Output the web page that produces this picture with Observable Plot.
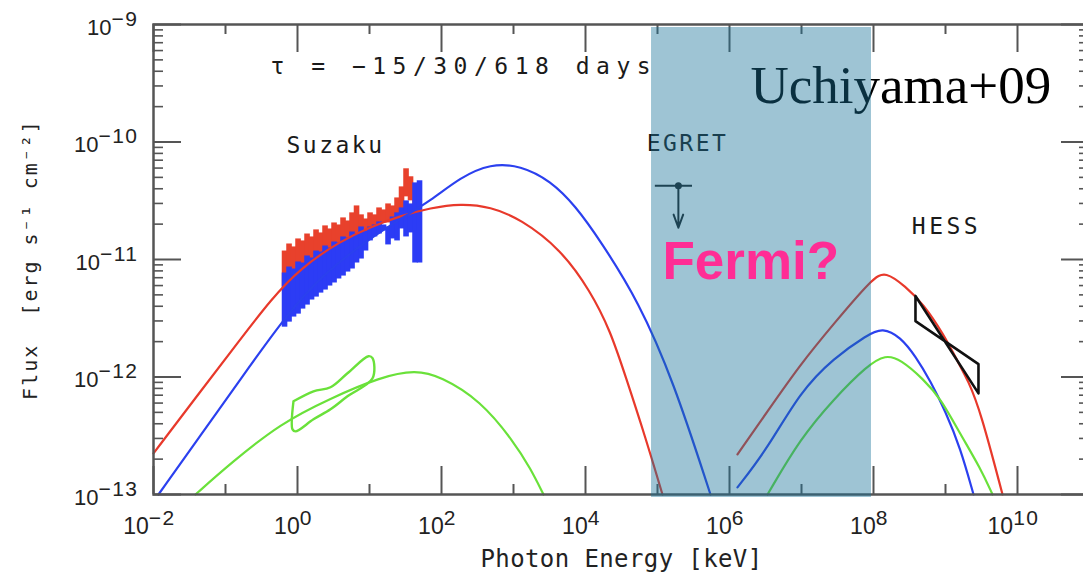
<!DOCTYPE html>
<html>
<head>
<meta charset="utf-8">
<script src="https://cdn.jsdelivr.net/npm/d3@7"></script>
<script src="https://cdn.jsdelivr.net/npm/@observablehq/plot@0.6"></script>
<style>
  html, body { margin: 0; padding: 0; background: #fff; overflow: hidden; }
  #chart svg { display: block; }
</style>
</head>
<body>
<div id="chart"></div>
<script>
// All values are log10(photon energy / keV) and log10(flux / erg s^-1 cm^-2)
const redSyncLogE  = [-2, -1.347, -0.792, -0.375, 0.042, 0.597, 1.014, 1.431, 1.847, 2.264, 2.681, 3.097, 3.653, 4.069, 4.347, 4.556, 4.833, 5.069];
const redSyncLogF  = [-12.65, -12.122, -11.678, -11.345, -11.072, -10.842, -10.723, -10.629, -10.561, -10.525, -10.551, -10.655, -10.91, -11.269, -11.61, -11.994, -12.514, -13.0];
const blueSyncLogE = [-1.931, -1.347, -0.792, -0.194, 0.319, 1.014, 1.431, 1.847, 2.264, 2.681, 3.097, 3.514, 3.861, 4.208, 4.736, 5.222, 5.736];
const blueSyncLogF = [-13.0, -12.497, -12.019, -11.507, -11.141, -10.817, -10.655, -10.501, -10.3, -10.185, -10.2, -10.33, -10.544, -10.842, -11.354, -12.036, -13.0];
const greenSyncLogE = [-1.417, -0.931, -0.236, 0.458, 1.153, 1.639, 1.986, 2.542, 3.0, 3.236, 3.417];
const greenSyncLogF = [-13.0, -12.736, -12.394, -12.181, -12.0, -11.94, -11.995, -12.2, -12.548, -12.778, -13.0];

const redICLogE   = [6.111, 6.528, 6.986, 7.444, 7.986, 8.167, 8.444, 8.694, 8.972, 9.167, 9.319, 9.486, 9.792];
const redICLogF   = [-12.659, -12.292, -11.891, -11.55, -11.16, -11.1, -11.23, -11.38, -11.635, -11.866, -12.036, -12.292, -13.0];
const blueICLogE  = [6.111, 6.528, 6.986, 7.444, 7.917, 8.125, 8.375, 8.583, 8.792, 9.0, 9.208, 9.389];
const blueICLogF  = [-12.94, -12.608, -12.122, -11.84, -11.64, -11.58, -11.66, -11.823, -12.036, -12.292, -12.608, -13.0];
const greenICLogE = [6.528, 6.986, 7.444, 7.917, 8.167, 8.375, 8.694, 8.931, 9.208, 9.486, 9.653];
const greenICLogF = [-13.0, -12.522, -12.19, -11.9, -11.81, -11.85, -12.019, -12.181, -12.488, -12.778, -13.0];

// Suzaku spectra: vertical extent of the data at each energy
const redDataLogE  = [-0.18, -0.1175, -0.055, 0.0075, 0.07, 0.1325, 0.195, 0.2575, 0.32, 0.3825, 0.445, 0.5075, 0.57, 0.6325, 0.695, 0.7575, 0.82, 0.8825, 0.945, 1.0075, 1.07, 1.1325, 1.195, 1.2575, 1.32, 1.3825, 1.445, 1.5075, 1.57, 1.6325];
const redDataLogHi = [-10.928, -10.868, -10.893, -10.825, -10.842, -10.783, -10.808, -10.748, -10.774, -10.714, -10.74, -10.689, -10.706, -10.646, -10.672, -10.603, -10.544, -10.62, -10.655, -10.603, -10.62, -10.561, -10.578, -10.527, -10.544, -10.476, -10.382, -10.228, -10.296, -10.365];
const redDataLogLo = [-11.235, -11.209, -11.183, -11.175, -11.141, -11.115, -11.098, -11.081, -11.038, -11.03, -10.996, -10.979, -10.945, -10.928, -10.893, -10.876, -10.859, -10.808, -10.774, -10.757, -10.74, -10.723, -10.689, -10.689, -10.663, -10.638, -10.586, -10.467, -10.501, -10.535];
const blueDataLogE  = [-0.18, -0.1175, -0.055, 0.0075, 0.07, 0.1325, 0.195, 0.2575, 0.32, 0.3825, 0.445, 0.5075, 0.57, 0.6325, 0.695, 0.7575, 0.82, 0.8825, 0.945, 1.0075, 1.07, 1.1325, 1.195, 1.2575, 1.32, 1.3825, 1.445, 1.5075, 1.57, 1.6325, 1.695];
const blueDataLogHi = [-11.115, -11.064, -11.081, -11.021, -11.03, -10.97, -10.987, -10.928, -10.936, -10.885, -10.902, -10.851, -10.859, -10.808, -10.817, -10.766, -10.783, -10.723, -10.757, -10.723, -10.706, -10.68, -10.706, -10.723, -10.638, -10.603, -10.561, -10.501, -10.527, -10.348, -10.33];
const blueDataLogLo = [-11.576, -11.533, -11.49, -11.465, -11.422, -11.388, -11.345, -11.32, -11.286, -11.26, -11.226, -11.2, -11.166, -11.141, -11.107, -11.081, -11.03, -10.996, -10.928, -10.842, -10.808, -10.783, -10.757, -10.876, -10.825, -10.842, -10.74, -10.808, -10.774, -11.03, -11.03];

// Butterflies
const greenBowLogE = [-0.056, 0.222, 0.458, 0.694, 0.986, 1.042, 1.042, 0.694, 0.458, 0.222, -0.028, -0.069, -0.056];
const greenBowLogF = [-12.207, -12.122, -12.087, -11.968, -11.823, -11.84, -12.011, -12.164, -12.275, -12.36, -12.463, -12.446, -12.207];
const hessBowLogE = [8.583, 9.458, 9.458, 8.583, 8.583];
const hessBowLogF = [-11.311, -12.139, -11.891, -11.525, -11.311];

// EGRET upper limit
const egretLogE = 5.29, egretLogELo = 4.97, egretLogEHi = 5.486;
const egretLogF = -10.373, egretArrowLogF = -10.73;

// Fermi band (log10 keV)
const fermiBandLogE = [4.917, 7.972];

// Axis ticks (exponents)
const xMajorExp = [-2, 0, 2, 4, 6, 8, 10];
const xMinorExp = [-1, 1, 3, 5, 7, 9];
const yMajorExp = [-13, -12, -11, -10, -9];
const yMinorVals = [-13, -12, -11, -10].flatMap(p => [2, 3, 4, 5, 6, 7, 8, 9].map(k => k * 10 ** p));

const rows = (le, lf) => le.map((e, i) => ({E: 10 ** e, F: 10 ** lf[i]}));
const bars = (le, hi, lo) => le.map((e, i) => ({E: 10 ** e, hi: 10 ** hi[i], lo: 10 ** lo[i]}));

const RED = "#e8392b", BLUE = "#2b40ef", GREEN = "#6ae13a";
const AX = "#555";
const innerW = 1083 + 6 - 153, innerH = 576 - 82 - 24;
const lab = "DejaVu Sans Mono, monospace";
const expStr = e => (e < 0 ? "\u2212" : "") + Math.abs(e);
const C = "basis";

const chart = Plot.plot({
  width: 1083,
  height: 576,
  marginLeft: 153,
  marginRight: -6,
  marginTop: 24,
  marginBottom: 82,
  style: {background: "white"},
  x: {type: "log", domain: [1e-2, 1e11], axis: null},
  y: {type: "log", domain: [1e-13, 1e-9], axis: null},
  marks: [
    // Suzaku data
    Plot.ruleX(bars(redDataLogE, redDataLogHi, redDataLogLo), {x: "E", y1: "lo", y2: "hi", stroke: "#e8412c", strokeWidth: 5.6}),
    Plot.ruleX(bars(blueDataLogE, blueDataLogHi, blueDataLogLo), {x: "E", y1: "lo", y2: "hi", stroke: "#2c3cf5", strokeWidth: 5.6}),
    // model curves
    Plot.line(rows(redSyncLogE, redSyncLogF), {x: "E", y: "F", stroke: RED, strokeWidth: 2.2, curve: C}),
    Plot.line(rows(blueSyncLogE, blueSyncLogF), {x: "E", y: "F", stroke: BLUE, strokeWidth: 2.2, curve: C}),
    Plot.line(rows(greenSyncLogE, greenSyncLogF), {x: "E", y: "F", stroke: GREEN, strokeWidth: 2.2, curve: C}),
    Plot.line(rows(redICLogE, redICLogF), {x: "E", y: "F", stroke: RED, strokeWidth: 2.2, curve: C}),
    Plot.line(rows(blueICLogE, blueICLogF), {x: "E", y: "F", stroke: BLUE, strokeWidth: 2.2, curve: C}),
    Plot.line(rows(greenICLogE, greenICLogF), {x: "E", y: "F", stroke: GREEN, strokeWidth: 2.2, curve: C}),
    // butterflies
    Plot.line(rows(greenBowLogE, greenBowLogF), {x: "E", y: "F", stroke: GREEN, strokeWidth: 2.4, strokeLinejoin: "round", curve: "catmull-rom"}),
    Plot.line(rows(hessBowLogE, hessBowLogF), {x: "E", y: "F", stroke: "#111", strokeWidth: 2.6}),
    // EGRET upper limit
    Plot.ruleY([0], {x1: () => 10 ** egretLogELo, x2: () => 10 ** egretLogEHi, y: () => 10 ** egretLogF, stroke: "#222", strokeWidth: 2}),
    Plot.arrow([0], {x1: () => 10 ** egretLogE, x2: () => 10 ** egretLogE, y1: () => 10 ** egretLogF, y2: () => 10 ** egretArrowLogF, stroke: "#222", strokeWidth: 2, headLength: 14, headAngle: 40}),
    Plot.dot([0], {x: () => 10 ** egretLogE, y: () => 10 ** egretLogF, r: 3.5, fill: "#222"}),
    // labels
    Plot.text(["\u03c4 = \u221215/30/618 days"], {x: () => 10 ** -0.375, y: () => 10 ** -9.358, textAnchor: "start", fontFamily: lab, fontSize: 23, fill: "#1a1a1a", ariaDescription: "lbl-tau"}),
    Plot.text(["Suzaku"], {x: () => 10 ** 0.528, y: () => 10 ** -10.03, fontFamily: lab, fontSize: 23, fill: "#1a1a1a", ariaDescription: "lbl-suzaku"}),
    Plot.text(["EGRET"], {x: () => 10 ** 5.417, y: () => 10 ** -10.015, fontFamily: lab, fontSize: 23, fill: "#1a1a1a", ariaDescription: "lbl-egret"}),
    Plot.text(["HESS"], {x: () => 10 ** 9.014, y: () => 10 ** -10.723, fontFamily: lab, fontSize: 23, fill: "#1a1a1a", ariaDescription: "lbl-hess"}),
    Plot.text(["Uchiyama+09"], {x: () => 10 ** 6.292, y: () => 10 ** -9.665, textAnchor: "start", lineAnchor: "bottom", fontFamily: "Liberation Serif, Times New Roman, serif", fontSize: 53, fill: "#000"}),
    // frame and ticks
    Plot.frame({stroke: AX, strokeWidth: 2.5}),
    Plot.tickX(xMajorExp, {x: d => 10 ** d, stroke: AX, strokeWidth: 2, insetTop: innerH - 28}),
    Plot.tickX(xMajorExp, {x: d => 10 ** d, stroke: AX, strokeWidth: 2, insetBottom: innerH - 28}),
    Plot.tickX(xMinorExp, {x: d => 10 ** d, stroke: AX, strokeWidth: 2, insetTop: innerH - 10}),
    Plot.tickX(xMinorExp, {x: d => 10 ** d, stroke: AX, strokeWidth: 2, insetBottom: innerH - 10}),
    Plot.tickY(yMajorExp, {y: d => 10 ** d, stroke: AX, strokeWidth: 2, insetRight: innerW - 28}),
    Plot.tickY(yMajorExp, {y: d => 10 ** d, stroke: AX, strokeWidth: 2, insetLeft: innerW - 28}),
    Plot.tickY(yMinorVals, {y: d => d, stroke: AX, strokeWidth: 1.6, insetRight: innerW - 10}),
    Plot.tickY(yMinorVals, {y: d => d, stroke: AX, strokeWidth: 1.6, insetLeft: innerW - 10}),
    // tick labels
    Plot.text(xMajorExp, {x: d => 10 ** d, frameAnchor: "bottom", dy: 39, dx: -4, textAnchor: "middle", lineAnchor: "bottom", text: d => "10|" + expStr(d), fontFamily: "Liberation Sans, Arial, sans-serif", fontSize: 23, fill: "#222", ariaDescription: "ticklabel"}),
    Plot.text(yMajorExp, {y: d => 10 ** d, frameAnchor: "left", dx: -15, dy: 10, textAnchor: "end", lineAnchor: "bottom", text: d => "10|" + expStr(d), fontFamily: "Liberation Sans, Arial, sans-serif", fontSize: 22, fill: "#222", ariaDescription: "ticklabel"}),
    // axis titles
    Plot.text(["Photon Energy [keV]"], {frameAnchor: "bottom", dy: 72, textAnchor: "middle", lineAnchor: "bottom", fontFamily: lab, fontSize: 24, fill: "#222", ariaDescription: "lbl-xtitle"}),
    Plot.text(["Flux  [erg s\u207b\u00b9 cm\u207b\u00b2]"], {frameAnchor: "left", dx: -123, rotate: -90, textAnchor: "middle", fontFamily: lab, fontSize: 20, fill: "#222", ariaDescription: "lbl-ytitle"}),
    // Fermi band overlay
    Plot.rect([fermiBandLogE], {x1: d => 10 ** d[0], x2: d => 10 ** d[1], y1: () => 1e-13, y2: () => 1e-9, insetTop: 3, insetBottom: -3, fill: "#187298", fillOpacity: 0.42}),
    Plot.text(["Fermi?"], {x: () => 10 ** 5.069, y: () => 10 ** -11.166, textAnchor: "start", lineAnchor: "bottom", fontFamily: "Liberation Sans, Arial, sans-serif", fontWeight: "bold", fontSize: 53, fill: "#ff2d95"})
  ]
});

const groupTexts = key => chart.querySelectorAll(`g[aria-description="${key}"] text, text[aria-description="${key}"]`);

// superscript exponents in tick labels
const ns = "http://www.w3.org/2000/svg";
groupTexts("ticklabel").forEach(t => {
  const parts = t.textContent.split("|");
  if (parts.length < 2) return;
  t.textContent = "";
  const s1 = document.createElementNS(ns, "tspan"); s1.textContent = parts[0];
  const s2 = document.createElementNS(ns, "tspan"); s2.textContent = parts[1];
  s2.setAttribute("dy", "-9"); s2.setAttribute("font-size", "21"); s2.setAttribute("letter-spacing", "1.5");
  t.appendChild(s1); t.appendChild(s2);
});
const spacing = {"lbl-tau": 6.5, "lbl-suzaku": 2.5, "lbl-egret": 2.5, "lbl-hess": 3.5, "lbl-xtitle": 0.4, "lbl-ytitle": 2};
for (const [k, v] of Object.entries(spacing)) groupTexts(k).forEach(t => t.setAttribute("letter-spacing", v));
document.getElementById("chart").appendChild(chart);
</script>
</body>
</html>
